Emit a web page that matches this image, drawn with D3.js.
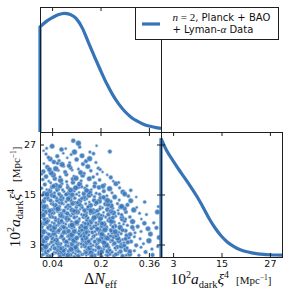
<!DOCTYPE html>
<html>
<head>
<meta charset="utf-8">
<script src="https://cdn.jsdelivr.net/npm/d3@7"></script>
<style>
  body { margin: 0; background: #fff; }
</style>
</head>
<body>
<svg id="chart" width="291" height="296"></svg>
<script>
// 1D marginal of Delta N_eff (normalised to peak)
var dnGrid = [0, 0.02, 0.04, 0.06, 0.08, 0.10, 0.12, 0.14, 0.16, 0.18, 0.20,
              0.22, 0.24, 0.26, 0.28, 0.30, 0.32, 0.34, 0.36, 0.38, 0.40];
var dnDensity = [0.885, 0.93, 0.962, 0.988, 1.0, 0.99, 0.955, 0.875, 0.755, 0.635, 0.52,
                 0.41, 0.315, 0.237, 0.175, 0.127, 0.093, 0.068, 0.05, 0.039, 0.031];

// 1D marginal of 10^2 a_dark xi^4
var aGrid = [0, 1.5, 3, 4.5, 6, 7.5, 9, 10.5, 12, 13.5, 15,
             16.5, 18, 19.5, 21, 22.5, 24, 25.5, 27, 28.5, 30];
var aDensity = [1.0, 0.89, 0.81, 0.733, 0.66, 0.585, 0.505, 0.415, 0.32, 0.24, 0.175,
                0.125, 0.09, 0.063, 0.046, 0.035, 0.027, 0.022, 0.019, 0.017, 0.016];

var dnTicks = [0.04, 0.2, 0.36];
var aTicks = [3, 15, 27];

// samples [dN_eff, 10^2 a_dark xi^4]
var scatterPts = [
  [0.003,0.4],[0.015,0.8],[0.027,0.2],[0.041,0.6],[0.052,0.9],[0.066,0.3],[0.079,0.7],[0.088,0.1],[0.101,0.5],[0.117,0.8],[0.126,0.2],[0.139,0.6],[0.153,0.4],[0.162,0.9],[0.178,0.3],[0.191,0.7],[0.203,0.1],[0.218,0.5],[0.229,0.8],[0.244,0.3],[0.258,0.6],[0.273,0.2],[0.296,0.7],[0.327,0.4],[0.372,0.5],
  [0.008,1.5],[0.021,1.2],[0.034,1.8],[0.046,1.1],[0.059,1.6],[0.071,1.3],[0.084,1.9],[0.095,1.4],[0.109,1.1],[0.122,1.7],[0.131,1.2],[0.147,1.5],[0.158,1.8],[0.169,1.1],[0.183,1.6],[0.197,1.3],[0.211,1.9],[0.224,1.4],[0.238,1.2],[0.251,1.7],[0.266,1.3],[0.284,1.8],[0.312,1.5],[0.349,1.2],
  [0.002,2.6],[0.013,2.2],[0.025,2.9],[0.038,2.4],[0.049,2.1],[0.063,2.7],[0.076,2.3],[0.087,2.8],[0.099,2.5],[0.113,2.1],[0.124,2.9],[0.137,2.4],[0.149,2.6],[0.164,2.2],[0.175,2.8],[0.188,2.5],[0.201,2.1],[0.214,2.7],[0.227,2.3],[0.241,2.9],[0.255,2.4],[0.269,2.6],[0.288,2.2],[0.318,2.8],[0.389,2.5],
  [0.006,3.3],[0.019,3.7],[0.032,3.1],[0.044,3.9],[0.057,3.4],[0.069,3.2],[0.081,3.8],[0.093,3.5],[0.106,3.1],[0.119,3.6],[0.129,3.3],[0.142,3.9],[0.155,3.5],[0.167,3.2],[0.181,3.7],[0.193,3.4],[0.206,3.8],[0.219,3.1],[0.233,3.6],[0.246,3.3],[0.261,3.9],[0.277,3.4],[0.301,3.7],[0.342,3.2],
  [0.004,4.6],[0.016,4.2],[0.029,4.8],[0.042,4.4],[0.054,4.1],[0.067,4.7],[0.078,4.3],[0.091,4.9],[0.103,4.5],[0.115,4.2],[0.127,4.8],[0.141,4.4],[0.152,4.6],[0.166,4.1],[0.177,4.9],[0.189,4.3],[0.204,4.7],[0.216,4.4],[0.231,4.1],[0.243,4.8],[0.257,4.5],[0.274,4.2],[0.293,4.7],[0.331,4.4],[0.394,4.7],
  [0.009,5.4],[0.022,5.8],[0.035,5.2],[0.047,5.6],[0.061,5.9],[0.073,5.3],[0.086,5.7],[0.098,5.1],[0.111,5.5],[0.123,5.8],[0.135,5.2],[0.148,5.6],[0.161,5.3],[0.173,5.9],[0.186,5.4],[0.199,5.7],[0.212,5.1],[0.226,5.5],[0.239,5.9],[0.253,5.3],[0.268,5.6],[0.286,5.2],[0.314,5.8],[0.365,5.5],
  [0.005,6.7],[0.017,6.3],[0.03,6.9],[0.043,6.5],[0.056,6.1],[0.068,6.8],[0.082,6.4],[0.094,6.2],[0.107,6.9],[0.118,6.5],[0.132,6.2],[0.144,6.7],[0.157,6.4],[0.17,6.9],[0.182,6.1],[0.195,6.6],[0.208,6.3],[0.222,6.8],[0.235,6.4],[0.249,6.1],[0.264,6.7],[0.283,6.3],[0.309,6.6],[0.357,6.8],
  [0.007,7.3],[0.02,7.8],[0.033,7.4],[0.048,7.1],[0.06,7.7],[0.074,7.3],[0.085,7.9],[0.1,7.5],[0.112,7.2],[0.125,7.8],[0.138,7.4],[0.151,7.1],[0.165,7.6],[0.179,7.3],[0.192,7.9],[0.205,7.5],[0.22,7.2],[0.234,7.7],[0.248,7.4],[0.265,7.1],[0.289,7.6],[0.323,7.3],
  [0.003,8.5],[0.014,8.1],[0.028,8.7],[0.04,8.3],[0.053,8.9],[0.065,8.4],[0.077,8.2],[0.09,8.8],[0.104,8.5],[0.116,8.1],[0.128,8.7],[0.143,8.3],[0.156,8.9],[0.168,8.4],[0.185,8.2],[0.198,8.6],[0.213,8.3],[0.228,8.8],[0.245,8.4],[0.262,8.1],[0.279,8.7],[0.306,8.5],[0.376,8.2],
  [0.008,9.6],[0.023,9.2],[0.036,9.8],[0.05,9.4],[0.062,9.1],[0.075,9.7],[0.089,9.3],[0.102,9.9],[0.114,9.5],[0.13,9.2],[0.145,9.7],[0.158,9.4],[0.172,9.1],[0.187,9.8],[0.2,9.3],[0.217,9.6],[0.232,9.2],[0.25,9.8],[0.271,9.4],[0.297,9.6],[0.335,9.1],
  [0.004,10.4],[0.018,10.8],[0.031,10.2],[0.045,10.6],[0.058,10.9],[0.07,10.3],[0.083,10.7],[0.097,10.1],[0.11,10.5],[0.124,10.8],[0.138,10.2],[0.152,10.6],[0.166,10.4],[0.18,10.9],[0.194,10.3],[0.21,10.7],[0.226,10.2],[0.243,10.6],[0.26,10.4],[0.284,10.8],[0.329,10.5],[0.388,10.8],
  [0.01,11.3],[0.026,11.7],[0.039,11.2],[0.052,11.8],[0.066,11.4],[0.079,11.1],[0.092,11.6],[0.105,11.3],[0.12,11.9],[0.133,11.5],[0.147,11.2],[0.161,11.7],[0.176,11.4],[0.19,11.1],[0.206,11.8],[0.223,11.4],[0.24,11.7],[0.258,11.2],[0.28,11.6],[0.31,11.3],
  [0.006,12.6],[0.021,12.2],[0.037,12.8],[0.051,12.4],[0.064,12.1],[0.078,12.7],[0.093,12.3],[0.108,12.9],[0.122,12.5],[0.137,12.2],[0.151,12.8],[0.167,12.4],[0.183,12.6],[0.199,12.1],[0.216,12.7],[0.235,12.3],[0.256,12.8],[0.289,12.5],[0.391,12.1],
  [0.012,13.4],[0.027,13.8],[0.043,13.2],[0.057,13.6],[0.071,13.9],[0.086,13.3],[0.101,13.7],[0.117,13.1],[0.132,13.5],[0.148,13.8],[0.163,13.2],[0.179,13.6],[0.196,13.4],[0.214,13.9],[0.233,13.3],[0.262,13.7],[0.3,13.5],[0.346,13.2],
  [0.008,14.7],[0.024,14.3],[0.041,14.8],[0.055,14.2],[0.07,14.6],[0.084,14.9],[0.099,14.4],[0.115,14.1],[0.13,14.7],[0.146,14.3],[0.162,14.8],[0.18,14.5],[0.2,14.2],[0.221,14.7],[0.247,14.4],[0.292,14.6],[0.318,14.4],
  [0.014,15.3],[0.032,15.8],[0.048,15.4],[0.063,15.1],[0.079,15.7],[0.096,15.3],[0.113,15.9],[0.129,15.5],[0.145,15.2],[0.164,15.6],[0.186,15.3],[0.211,15.8],[0.238,15.4],[0.274,15.6],
  [0.005,16.5],[0.022,16.2],[0.04,16.8],[0.058,16.4],[0.075,16.1],[0.092,16.7],[0.11,16.3],[0.127,16.9],[0.149,16.5],[0.17,16.2],[0.195,16.7],[0.23,16.4],[0.263,16.6],
  [0.016,17.4],[0.035,17.8],[0.053,17.2],[0.072,17.6],[0.09,17.3],[0.109,17.9],[0.131,17.5],[0.155,17.1],[0.182,17.7],[0.214,17.4],[0.251,17.6],
  [0.009,18.6],[0.029,18.2],[0.049,18.8],[0.068,18.4],[0.088,18.1],[0.108,18.7],[0.136,18.3],[0.163,18.8],[0.197,18.5],[0.242,18.2],
  [0.02,19.3],[0.044,19.7],[0.066,19.2],[0.087,19.8],[0.112,19.4],[0.141,19.6],[0.176,19.2],[0.222,19.7],
  [0.011,20.5],[0.037,20.2],[0.06,20.8],[0.083,20.4],[0.106,20.9],[0.134,20.3],[0.168,20.7],[0.207,20.4],
  [0.024,21.6],[0.052,21.2],[0.078,21.8],[0.101,21.4],[0.127,21.1],[0.158,21.7],[0.193,21.3],
  [0.013,22.4],[0.046,22.8],[0.073,22.2],[0.098,22.6],[0.142,22.3],[0.185,22.7],
  [0.034,23.5],[0.063,23.1],[0.09,23.8],[0.121,23.4],[0.164,23.6],
  [0.02,24.7],[0.057,24.2],[0.103,24.6],[0.139,24.3],[0.177,24.8],
  [0.012,25.5],[0.071,25.8],[0.114,25.2],[0.165,25.2],[0.231,25.3],
  [0.022,26.1],[0.04,26.6],[0.131,26.4],[0.187,26.7],
  [0.11,27.9],[0.127,27.3]
];

// second pass of samples filling the dense core and the sparse tail
var scatterCore = [
  [0.009,0.55],[0.034,0.15],[0.061,0.85],[0.092,0.45],[0.113,0.05],[0.144,0.75],[0.171,0.25],[0.198,0.95],[0.223,0.35],[0.251,0.65],[0.285,0.45],
  [0.002,1.95],[0.027,1.45],[0.053,1.05],[0.078,1.55],[0.103,1.85],[0.127,1.35],[0.152,1.05],[0.176,1.75],[0.204,1.25],[0.231,1.65],[0.259,1.05],[0.297,1.35],
  [0.019,2.45],[0.044,2.85],[0.069,2.05],[0.093,2.65],[0.118,2.35],[0.143,2.95],[0.169,2.55],[0.194,2.25],[0.22,2.85],[0.248,2.15],[0.279,2.75],[0.334,2.35],
  [0.012,3.85],[0.038,3.55],[0.063,3.05],[0.087,3.65],[0.112,3.95],[0.136,3.15],[0.161,3.75],[0.187,3.05],[0.212,3.45],[0.239,3.95],[0.268,3.15],[0.29,3.55],
  [0.022,4.55],[0.048,4.05],[0.072,4.95],[0.097,4.25],[0.121,4.55],[0.146,4.95],[0.171,4.35],[0.196,4.05],[0.223,4.55],[0.251,4.95],[0.283,4.35],[0.312,4.85],
  [0.003,5.05],[0.029,5.45],[0.054,5.05],[0.079,5.95],[0.105,5.35],[0.129,5.55],[0.154,5.95],[0.18,5.15],[0.205,5.45],[0.233,5.05],[0.261,5.95],[0.298,5.45],
  [0.011,6.05],[0.036,6.55],[0.062,6.35],[0.088,6.95],[0.113,6.15],[0.138,6.45],[0.163,6.05],[0.189,6.75],[0.215,6.55],[0.242,6.95],[0.273,6.45],[0.334,6.15],
  [0.001,7.95],[0.026,7.05],[0.054,7.55],[0.079,7.15],[0.106,7.65],[0.131,7.05],[0.158,7.95],[0.185,7.55],[0.212,7.85],[0.241,7.25],[0.276,7.85],[0.305,7.15],
  [0.021,8.45],[0.047,8.05],[0.071,8.65],[0.097,8.95],[0.122,8.35],[0.149,8.05],[0.176,8.75],[0.205,8.05],[0.236,8.55],[0.27,8.95],
  [0.015,9.05],[0.043,9.55],[0.068,9.95],[0.095,9.05],[0.122,9.65],[0.151,9.95],[0.179,9.45],[0.208,9.95],[0.241,9.45],[0.283,9.15],
  [0.011,10.05],[0.038,10.55],[0.064,10.15],[0.09,10.45],[0.117,10.95],[0.145,10.05],[0.173,10.65],[0.202,10.05],[0.234,10.95],[0.27,10.15],
  [0.003,11.95],[0.032,11.05],[0.059,11.55],[0.085,11.95],[0.112,11.05],[0.14,11.85],[0.168,11.05],[0.198,11.55],[0.231,11.05],[0.266,11.95],
  [0.014,12.05],[0.044,12.55],[0.071,12.95],[0.1,12.05],[0.129,12.65],[0.159,12.05],[0.191,12.95],[0.225,12.55],[0.27,12.15],
  [0.004,13.05],[0.035,13.55],[0.064,13.05],[0.093,13.95],[0.124,13.05],[0.155,13.95],[0.187,13.05],[0.223,13.55],
  [0.016,14.05],[0.047,14.55],[0.077,14.15],[0.107,14.95],[0.138,14.05],[0.171,14.95],[0.21,14.35],
  [0.023,15.05],[0.056,15.95],[0.087,15.05],[0.121,15.05],[0.154,15.95],[0.197,15.05],
  [0.031,16.05],[0.066,16.95],[0.101,16.05],[0.138,16.85],[0.18,16.95],
  [0.006,19.9],[0.031,21.0],[0.058,22.5],[0.077,24.9],[0.096,21.9],[0.119,18.9],[0.146,20.1],[0.152,23.0],[0.189,19.9],[0.208,17.0],
  [0.028,23.9],[0.085,26.0],[0.045,17.0],[0.118,16.6],[0.199,21.0],[0.234,19.1],[0.26,17.9],[0.28,15.1],[0.3,16.0],[0.32,11.9],
  [0.345,8.1],[0.36,3.9],[0.37,1.9],[0.385,7.0],[0.352,10.2]
];

var blue = "#3674b7";
var svg = d3.select("#chart");

// panel geometry
var x = d3.scaleLinear().domain([0, 0.4]).range([40, 161]);
var aX = d3.scaleLinear().domain([0, 30]).range([161, 282]);
var aY = d3.scaleLinear().domain([0, 30]).range([257, 132]);
var topY = d3.scaleLinear().domain([0, 1.053]).range([132, 7]);
var rightY = d3.scaleLinear().domain([0, 1.053]).range([257, 132]);

// scatter, clipped to its panel
svg.append("clipPath").attr("id", "clipScatter")
  .append("rect").attr("x", 40).attr("y", 132).attr("width", 121).attr("height", 125);

var radii = [2.1, 1.5, 2.5, 1.8, 1.3, 2.3, 2.7, 1.6];
svg.append("g").attr("clip-path", "url(#clipScatter)")
  .selectAll("circle")
  .data(scatterPts.concat(scatterCore))
  .enter()
  .append("circle")
    .attr("cx", function(d) { return x(d[0]); })
    .attr("cy", function(d) { return aY(d[1]); })
    .attr("r", function(d, i) { return radii[i % radii.length]; })
    .attr("fill", blue)
    .attr("fill-opacity", 0.9)
    .attr("stroke", "#a8c6e6")
    .attr("stroke-width", 0.6);

// 1D curves (with the vertical edge at the lower bound of the prior)
function curvePath(xs, ys, sx, sy) {
  var pts = xs.map(function(v, i) { return [v, ys[i]]; });
  var line = d3.line()
    .x(function(d) { return sx(d[0]); })
    .y(function(d) { return sy(d[1]); })
    .curve(d3.curveMonotoneX);
  return "M" + sx(xs[0]) + "," + sy(0) + "L" + line(pts).slice(1);
}

svg.append("path")
  .attr("d", curvePath(dnGrid, dnDensity, x, topY))
  .attr("fill", "none").attr("stroke", blue).attr("stroke-width", 3.2);

svg.append("path")
  .attr("d", curvePath(aGrid, aDensity, aX, rightY))
  .attr("fill", "none").attr("stroke", blue).attr("stroke-width", 3.2);

// frames
var frames = [[40, 7], [40, 132], [161, 132]];
frames.forEach(function(f) {
  svg.append("rect")
    .attr("x", f[0] + 0.5).attr("y", f[1] + 0.5)
    .attr("width", 121).attr("height", 125)
    .attr("fill", "none").attr("stroke", "#1e1e1e").attr("stroke-width", 1);
});

// axes with inward ticks
function styleAxis(g) {
  g.select(".domain").remove();
  g.selectAll(".tick line").attr("stroke", "#1e1e1e");
  g.selectAll(".tick text")
    .style("font-family", "'DejaVu Sans', sans-serif")
    .style("font-size", "9.5px")
    .attr("fill", "#111");
}

function noLabels(g) {
  g.selectAll(".tick text").remove();
}

// top panel: ticks top and bottom, no labels
svg.append("g").attr("transform", "translate(0,132)")
  .call(d3.axisBottom(x).tickValues(dnTicks).tickSize(-4)).call(styleAxis).call(noLabels);
svg.append("g").attr("transform", "translate(0,7)")
  .call(d3.axisTop(x).tickValues(dnTicks).tickSize(-4)).call(styleAxis).call(noLabels);

// scatter panel
svg.append("g").attr("transform", "translate(0,257)")
  .call(d3.axisBottom(x).tickValues(dnTicks).tickFormat(d3.format("")).tickSize(-4).tickPadding(3.5))
  .call(styleAxis);
svg.append("g").attr("transform", "translate(0,132)")
  .call(d3.axisTop(x).tickValues(dnTicks).tickSize(-4)).call(styleAxis).call(noLabels);
svg.append("g").attr("transform", "translate(40,0)")
  .call(d3.axisLeft(aY).tickValues(aTicks).tickSize(-4).tickPadding(4))
  .call(styleAxis);
svg.append("g").attr("transform", "translate(161,0)")
  .call(d3.axisRight(aY).tickValues(aTicks).tickSize(-4)).call(styleAxis).call(noLabels);

// right marginal panel
svg.append("g").attr("transform", "translate(0,257)")
  .call(d3.axisBottom(aX).tickValues(aTicks).tickSize(-4).tickPadding(3.5))
  .call(styleAxis);
svg.append("g").attr("transform", "translate(0,132)")
  .call(d3.axisTop(aX).tickValues(aTicks).tickSize(-4)).call(styleAxis).call(noLabels);
svg.append("g").attr("transform", "translate(161,0)")
  .call(d3.axisRight(aY).tickValues(aTicks).tickSize(4)).call(styleAxis).call(noLabels);

// axis labels
var serif = "'Liberation Serif', 'Times New Roman', serif";

var dnLabel = svg.append("text")
  .attr("x", 100.5).attr("y", 284)
  .attr("text-anchor", "middle")
  .style("font-family", serif).style("font-size", "16px").attr("fill", "#111");
dnLabel.append("tspan").text("Δ");
dnLabel.append("tspan").style("font-style", "italic").text("N");
dnLabel.append("tspan").attr("dy", 4).style("font-size", "11px").text("eff");

function aLabel(transform) {
  var t = svg.append("text")
    .attr("transform", transform)
    .attr("text-anchor", "middle")
    .style("font-family", serif).style("font-size", "15.5px").attr("fill", "#111");
  t.append("tspan").text("10");
  t.append("tspan").attr("dy", -6).style("font-size", "10px").text("2");
  t.append("tspan").attr("dy", 6).style("font-style", "italic").text("a");
  t.append("tspan").attr("dy", 3.5).style("font-size", "10.5px").text("dark");
  t.append("tspan").attr("dy", -3.5).style("font-style", "italic").text("ξ");
  t.append("tspan").attr("dy", -6).style("font-size", "10px").text("4");
  t.append("tspan").attr("dy", 6).attr("dx", 7).style("font-size", "11px").text("[Mpc");
  t.append("tspan").attr("dy", -4).style("font-size", "7.5px").text("−1");
  t.append("tspan").attr("dy", 4).style("font-size", "11px").text("]");
}
aLabel("translate(221,284)");
aLabel("translate(19.5,197) rotate(-90)");

// legend
var legend = svg.append("g");
legend.append("rect")
  .attr("x", 135.5).attr("y", 7.5).attr("width", 143).attr("height", 32)
  .attr("fill", "#fff").attr("stroke", "#1e1e1e").attr("stroke-width", 1);
legend.append("line")
  .attr("x1", 142).attr("x2", 160).attr("y1", 24).attr("y2", 24)
  .attr("stroke", blue).attr("stroke-width", 3.2);

var sans = "'DejaVu Sans', sans-serif";
var l1 = legend.append("text").attr("x", 172.5).attr("y", 20.5)
  .style("font-family", sans).style("font-size", "10px").attr("fill", "#111");
l1.append("tspan").style("font-family", serif).style("font-style", "italic").style("font-size", "11px").text("n");
l1.append("tspan").style("font-family", serif).style("font-size", "11px").text(" = 2");
l1.append("tspan").text(", Planck + BAO");

var l2 = legend.append("text").attr("x", 172.5).attr("y", 32.5)
  .style("font-family", sans).style("font-size", "10px").attr("fill", "#111");
l2.append("tspan").text("+ Lyman-");
l2.append("tspan").style("font-family", serif).style("font-style", "italic").style("font-size", "11px").text("α");
l2.append("tspan").text(" Data");
</script>
</body>
</html>
